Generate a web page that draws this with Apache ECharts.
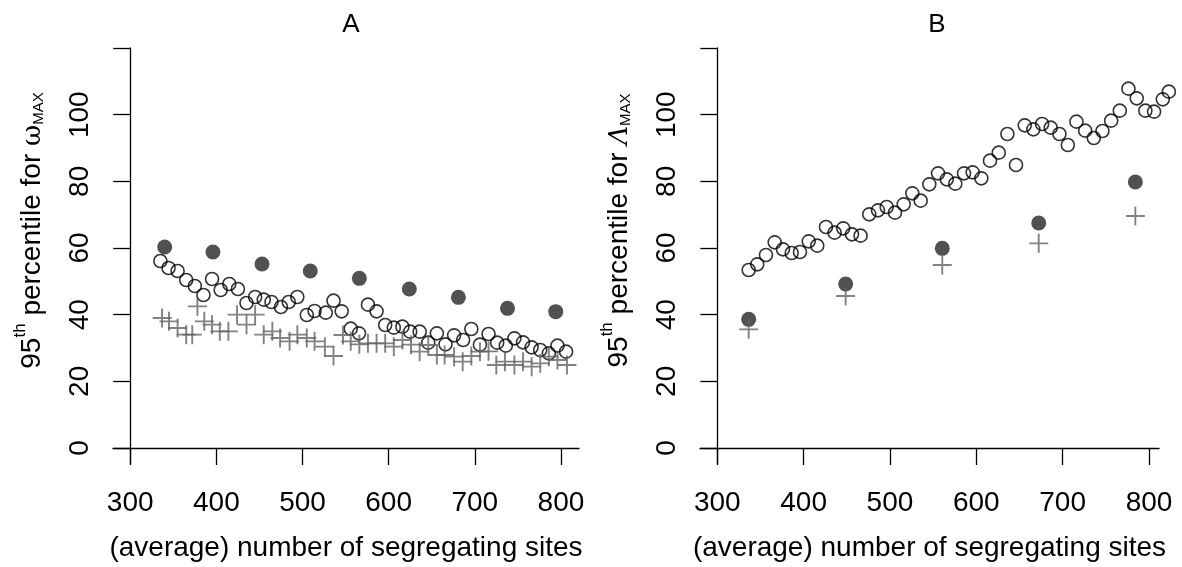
<!DOCTYPE html>
<html><head><meta charset="utf-8">
<script src="https://cdn.jsdelivr.net/npm/echarts@6/dist/echarts.min.js"></script>
<style>html,body{margin:0;padding:0;background:#fff}#c{width:1182px;height:567px}</style>
</head><body><div id="c"></div>
<script>
// ---- Panel A data ----
const aOpenX = [335,344.5,355,365,375,385,395,405,415,425,435,445,455,464,475,484,494,505,514,527,536,545.5,556,565.6,576,586,596,606,616,625,636,646,656,666,676,686.5,696,706,716,726,736,746,756,766,776,786,796,806];
const aOpenY = [56.1,54.0,53.1,50.4,48.6,45.9,50.7,47.4,49.2,47.7,43.5,45.3,44.5,43.8,42.3,43.8,45.3,39.9,41.1,40.6,44.2,41.0,35.8,34.4,43.0,41.0,36.9,36.1,36.4,34.9,34.9,31.6,34.4,31.1,33.8,32.4,35.7,31.0,34.2,31.6,30.7,32.9,31.7,30.2,29.4,28.4,30.7,28.9];
const aFilledX = [340,396,453,509,566,624,681,738,794];
const aFilledY = [60.3,58.8,55.2,53.1,50.9,47.7,45.2,41.9,40.9];
const aCrossX = [337,345,355,365,372,378,386,395,404,414,424,435,445,455,465,474,485,494,505,514,526,536,547,556,566,576,586,596,606,616,626,636,646,656,665,676,686,696,706,716,725,735,746,756,766,776,786,796,807];
const aCrossY = [39,38,36,34,34,42.5,38,37,35,35,40,37,40,34,35,33,32,34,33,32,30.4,27.6,33.9,32,31.1,31.4,31.4,31.4,30.4,32.4,31,28.9,30.9,27.9,27.9,27.4,25.9,27.6,28.9,29,24.9,25.9,24.9,25.9,24.4,25.4,27.4,26.4,24.9];
// ---- Panel B data ----
const bOpenX = [336.4,346.3,356.4,366.5,376.1,386.2,395.8,405.9,415.8,425.9,435.9,445.9,456,466,476,486.1,496.2,505.8,515.9,525.9,535.6,545.6,555.7,565.8,575.7,585.8,595.8,605.8,615.9,626,636,646,656.1,666.1,676.2,686.2,696.3,706,716,726.1,736.1,746.1,756.2,766.2,776.2,785.8,795.8,805.9,816,823];
const bOpenY = [53.4,55.1,57.9,61.7,59.6,58.5,58.8,62.0,60.7,66.3,64.6,65.9,64.1,63.7,70.1,71.3,72.3,70.6,73.1,76.4,74.2,79.1,82.4,80.6,79.3,82.4,82.7,80.9,86.2,88.6,94.2,84.9,96.8,95.6,97.2,96.1,94.2,90.9,97.9,95.2,93.0,95.1,98.2,101.2,107.8,104.9,101.2,100.9,104.6,106.9];
const bFilledX = [336.4,448.7,560.6,672.3,784.2];
const bFilledY = [38.6,49.2,59.9,67.5,79.8];
const bCrossX = [336.4,448.7,560.6,672.3,784.2];
const bCrossY = [35.6,45.6,54.9,61.4,69.6];
// ---- axis ticks ----
const xTicks = [300,400,500,600,700,800];
const yTicks = [0,20,40,60,80,100,120];
const yLabels = [0,20,40,60,80,100];
const titles = ['A','B'];
const xName = '(average) number of segregating sites';

const zip = (xs, ys) => xs.map((x, i) => [x, ys[i]]);
const FONT = 'Liberation Sans, Arial, Helvetica, sans-serif';
const FS = 28;
const crossPath = 'path://M9,0L11,0L11,9L20,9L20,11L11,11L11,20L9,20L9,11L0,11L0,9L9,9Z';

function xAxis(gi, max) {
  return {
    type: 'value', gridIndex: gi, min: 280, max: max, offset: -15,
    name: xName, nameLocation: 'middle', nameGap: 86,
    nameTextStyle: {fontFamily: FONT, fontSize: FS, color: '#000'},
    axisLine: {onZero: false, lineStyle: {color: '#000', width: 1.3}},
    axisTick: {customValues: xTicks, length: 17, lineStyle: {color: '#000', width: 1.3}},
    axisLabel: {customValues: xTicks, margin: 41, fontFamily: FONT, fontSize: FS, color: '#000'},
    splitLine: {show: false}
  };
}
function yAxis(gi, sym, offset) {
  return {
    type: 'value', gridIndex: gi, min: -4.5, max: 120, offset: offset,
    name: '{n|95}{sup|th}{n| percentile for }{g|' + sym + '}{sub|MAX}',
    nameLocation: 'middle', nameGap: 84, nameRotate: 90,
    nameTextStyle: {
      fontFamily: FONT, fontSize: FS, color: '#000', padding: [0, 0, 0, 50],
      rich: {
        n: {fontFamily: FONT, fontSize: FS, color: '#000', lineHeight: 34, verticalAlign: 'bottom'},
        g: {fontFamily: 'DejaVu Serif, serif', fontSize: FS - 2, color: '#000', lineHeight: 34, verticalAlign: 'bottom', fontStyle: gi === 1 ? 'italic' : 'normal'},
        sup: {fontFamily: FONT, fontSize: 17, color: '#000', lineHeight: 20, verticalAlign: 'top'},
        sub: {fontFamily: FONT, fontSize: 15, color: '#000', lineHeight: 16, verticalAlign: 'bottom'}
      }
    },
    axisLine: {onZero: false, lineStyle: {color: '#000', width: 1.3}},
    axisTick: {customValues: yTicks, length: 17, lineStyle: {color: '#000', width: 1.3}},
    axisLabel: {customValues: yLabels, rotate: 90, margin: 36, fontFamily: FONT, fontSize: FS, color: '#000'},
    splitLine: {show: false}
  };
}
function seriesFor(gi, ox, oy, fx, fy, cx, cy) {
  return [
    {type: 'scatter', xAxisIndex: gi, yAxisIndex: gi, data: zip(ox, oy), symbol: 'circle', symbolSize: 13, clip: false,
     itemStyle: {color: 'rgba(255,255,255,0)', borderColor: '#000', borderWidth: 1.6}, silent: true},
    {type: 'scatter', xAxisIndex: gi, yAxisIndex: gi, data: zip(fx, fy), symbol: 'circle', symbolSize: 15, clip: false,
     itemStyle: {color: '#262626'}, silent: true},
    {type: 'scatter', xAxisIndex: gi, yAxisIndex: gi, data: zip(cx, cy), symbol: crossPath, symbolSize: 19, clip: false,
     itemStyle: {color: '#636363'}, silent: true}
  ];
}

const chart = echarts.init(document.getElementById('c'), null, {renderer: 'canvas'});
chart.setOption({
  animation: false,
  backgroundColor: '#fff',
  title: [
    {text: titles[0], left: 346, top: 7, textAlign: 'center', textStyle: {fontFamily: FONT, fontSize: 26, fontWeight: 'normal', color: '#000'}},
    {text: titles[1], left: 932, top: 7, textAlign: 'center', textStyle: {fontFamily: FONT, fontSize: 26, fontWeight: 'normal', color: '#000'}}
  ],
  grid: [
    {left: 113, top: 48, width: 466, height: 415, outerBoundsMode: 'none', containLabel: false},
    {left: 700, top: 48, width: 459, height: 415, outerBoundsMode: 'none', containLabel: false}
  ],
  xAxis: [xAxis(0, 821), xAxis(1, 811.6)],
  yAxis: [yAxis(0, 'ω', -17.2), yAxis(1, 'Λ', -17.3)],
  series: [].concat(
    seriesFor(0, aOpenX, aOpenY, aFilledX, aFilledY, aCrossX, aCrossY),
    seriesFor(1, bOpenX, bOpenY, bFilledX, bFilledY, bCrossX, bCrossY)
  )
});
</script></body></html>
